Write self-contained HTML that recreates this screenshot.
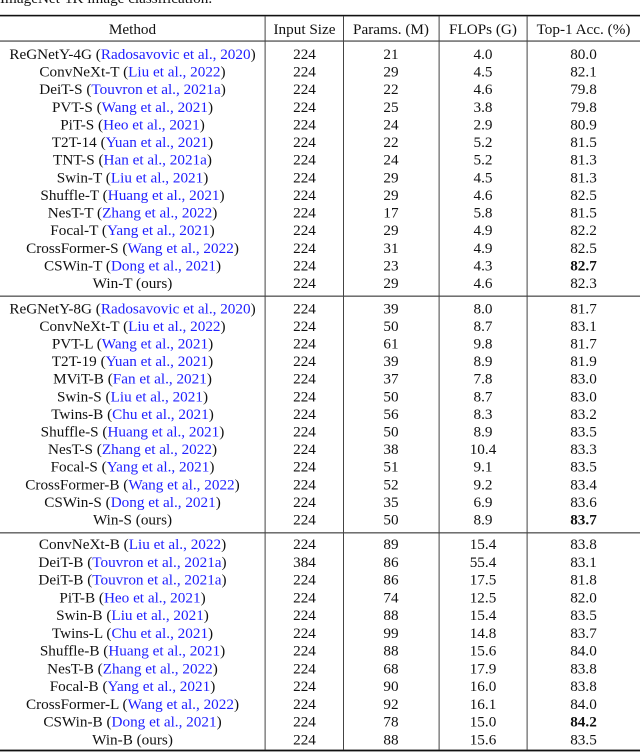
<!DOCTYPE html>
<html><head><meta charset="utf-8">
<style>
html,body{margin:0;padding:0;background:#fff;}
svg{display:block;}
text{font-family:"Liberation Serif",serif;font-size:15.2px;fill:#111;}
.b{fill:#2020ff;}
.bold{font-weight:bold;}
</style></head><body>
<svg width="640" height="752" viewBox="0 0 640 752" xmlns="http://www.w3.org/2000/svg">
<text x="0" y="3">ImageNet-1K image classification.</text>
<!-- rules -->
<rect x="0" y="14.8" width="640" height="1.6" fill="#111"/>
<rect x="0" y="40.5" width="640" height="1.1" fill="#333"/>
<rect x="0" y="295.6" width="640" height="1.1" fill="#333"/>
<rect x="0" y="532.3" width="640" height="1.1" fill="#333"/>
<rect x="0" y="749.6" width="640" height="1.8" fill="#111"/>
<!-- verticals -->
<g fill="#444">
<rect x="264.6" y="16" width="1" height="734"/>
<rect x="343" y="16" width="1" height="734"/>
<rect x="438.6" y="16" width="1" height="734"/>
<rect x="526.6" y="16" width="1" height="734"/>
</g>
<!-- header -->
<g text-anchor="middle">
<text x="132.5" y="34">Method</text>
<text x="304.5" y="34">Input Size</text>
<text x="391" y="34">Params. (M)</text>
<text x="483" y="34">FLOPs (G)</text>
<text x="583.5" y="34">Top-1 Acc. (%)</text>
</g>
<g text-anchor="middle">
<!-- Section 1 -->
<text x="132.5" y="59">ReGNetY-4G (<tspan class="b">Radosavovic et al., 2020</tspan>)</text><text x="304.5" y="59">224</text><text x="391" y="59">21</text><text x="483" y="59">4.0</text><text x="583.5" y="59">80.0</text>
<text x="132.5" y="76.6">ConvNeXt-T (<tspan class="b">Liu et al., 2022</tspan>)</text><text x="304.5" y="76.6">224</text><text x="391" y="76.6">29</text><text x="483" y="76.6">4.5</text><text x="583.5" y="76.6">82.1</text>
<text x="132.5" y="94.2">DeiT-S (<tspan class="b">Touvron et al., 2021a</tspan>)</text><text x="304.5" y="94.2">224</text><text x="391" y="94.2">22</text><text x="483" y="94.2">4.6</text><text x="583.5" y="94.2">79.8</text>
<text x="132.5" y="111.9">PVT-S (<tspan class="b">Wang et al., 2021</tspan>)</text><text x="304.5" y="111.9">224</text><text x="391" y="111.9">25</text><text x="483" y="111.9">3.8</text><text x="583.5" y="111.9">79.8</text>
<text x="132.5" y="129.5">PiT-S (<tspan class="b">Heo et al., 2021</tspan>)</text><text x="304.5" y="129.5">224</text><text x="391" y="129.5">24</text><text x="483" y="129.5">2.9</text><text x="583.5" y="129.5">80.9</text>
<text x="132.5" y="147.1">T2T-14 (<tspan class="b">Yuan et al., 2021</tspan>)</text><text x="304.5" y="147.1">224</text><text x="391" y="147.1">22</text><text x="483" y="147.1">5.2</text><text x="583.5" y="147.1">81.5</text>
<text x="132.5" y="164.7">TNT-S (<tspan class="b">Han et al., 2021a</tspan>)</text><text x="304.5" y="164.7">224</text><text x="391" y="164.7">24</text><text x="483" y="164.7">5.2</text><text x="583.5" y="164.7">81.3</text>
<text x="132.5" y="182.3">Swin-T (<tspan class="b">Liu et al., 2021</tspan>)</text><text x="304.5" y="182.3">224</text><text x="391" y="182.3">29</text><text x="483" y="182.3">4.5</text><text x="583.5" y="182.3">81.3</text>
<text x="132.5" y="200">Shuffle-T (<tspan class="b">Huang et al., 2021</tspan>)</text><text x="304.5" y="200">224</text><text x="391" y="200">29</text><text x="483" y="200">4.6</text><text x="583.5" y="200">82.5</text>
<text x="132.5" y="217.6">NesT-T (<tspan class="b">Zhang et al., 2022</tspan>)</text><text x="304.5" y="217.6">224</text><text x="391" y="217.6">17</text><text x="483" y="217.6">5.8</text><text x="583.5" y="217.6">81.5</text>
<text x="132.5" y="235.2">Focal-T (<tspan class="b">Yang et al., 2021</tspan>)</text><text x="304.5" y="235.2">224</text><text x="391" y="235.2">29</text><text x="483" y="235.2">4.9</text><text x="583.5" y="235.2">82.2</text>
<text x="132.5" y="252.8">CrossFormer-S (<tspan class="b">Wang et al., 2022</tspan>)</text><text x="304.5" y="252.8">224</text><text x="391" y="252.8">31</text><text x="483" y="252.8">4.9</text><text x="583.5" y="252.8">82.5</text>
<text x="132.5" y="270.4">CSWin-T (<tspan class="b">Dong et al., 2021</tspan>)</text><text x="304.5" y="270.4">224</text><text x="391" y="270.4">23</text><text x="483" y="270.4">4.3</text><text x="583.5" y="270.4" class="bold">82.7</text>
<text x="132.5" y="288">Win-T (ours)</text><text x="304.5" y="288">224</text><text x="391" y="288">29</text><text x="483" y="288">4.6</text><text x="583.5" y="288">82.3</text>
<!-- Section 2 -->
<text x="132.5" y="313.3">ReGNetY-8G (<tspan class="b">Radosavovic et al., 2020</tspan>)</text><text x="304.5" y="313.3">224</text><text x="391" y="313.3">39</text><text x="483" y="313.3">8.0</text><text x="583.5" y="313.3">81.7</text>
<text x="132.5" y="330.9">ConvNeXt-T (<tspan class="b">Liu et al., 2022</tspan>)</text><text x="304.5" y="330.9">224</text><text x="391" y="330.9">50</text><text x="483" y="330.9">8.7</text><text x="583.5" y="330.9">83.1</text>
<text x="132.5" y="348.5">PVT-L (<tspan class="b">Wang et al., 2021</tspan>)</text><text x="304.5" y="348.5">224</text><text x="391" y="348.5">61</text><text x="483" y="348.5">9.8</text><text x="583.5" y="348.5">81.7</text>
<text x="132.5" y="366.1">T2T-19 (<tspan class="b">Yuan et al., 2021</tspan>)</text><text x="304.5" y="366.1">224</text><text x="391" y="366.1">39</text><text x="483" y="366.1">8.9</text><text x="583.5" y="366.1">81.9</text>
<text x="132.5" y="383.7">MViT-B (<tspan class="b">Fan et al., 2021</tspan>)</text><text x="304.5" y="383.7">224</text><text x="391" y="383.7">37</text><text x="483" y="383.7">7.8</text><text x="583.5" y="383.7">83.0</text>
<text x="132.5" y="401.3">Swin-S (<tspan class="b">Liu et al., 2021</tspan>)</text><text x="304.5" y="401.3">224</text><text x="391" y="401.3">50</text><text x="483" y="401.3">8.7</text><text x="583.5" y="401.3">83.0</text>
<text x="132.5" y="418.9">Twins-B (<tspan class="b">Chu et al., 2021</tspan>)</text><text x="304.5" y="418.9">224</text><text x="391" y="418.9">56</text><text x="483" y="418.9">8.3</text><text x="583.5" y="418.9">83.2</text>
<text x="132.5" y="436.5">Shuffle-S (<tspan class="b">Huang et al., 2021</tspan>)</text><text x="304.5" y="436.5">224</text><text x="391" y="436.5">50</text><text x="483" y="436.5">8.9</text><text x="583.5" y="436.5">83.5</text>
<text x="132.5" y="454.1">NesT-S (<tspan class="b">Zhang et al., 2022</tspan>)</text><text x="304.5" y="454.1">224</text><text x="391" y="454.1">38</text><text x="483" y="454.1">10.4</text><text x="583.5" y="454.1">83.3</text>
<text x="132.5" y="471.7">Focal-S (<tspan class="b">Yang et al., 2021</tspan>)</text><text x="304.5" y="471.7">224</text><text x="391" y="471.7">51</text><text x="483" y="471.7">9.1</text><text x="583.5" y="471.7">83.5</text>
<text x="132.5" y="489.3">CrossFormer-B (<tspan class="b">Wang et al., 2022</tspan>)</text><text x="304.5" y="489.3">224</text><text x="391" y="489.3">52</text><text x="483" y="489.3">9.2</text><text x="583.5" y="489.3">83.4</text>
<text x="132.5" y="506.9">CSWin-S (<tspan class="b">Dong et al., 2021</tspan>)</text><text x="304.5" y="506.9">224</text><text x="391" y="506.9">35</text><text x="483" y="506.9">6.9</text><text x="583.5" y="506.9">83.6</text>
<text x="132.5" y="524.5">Win-S (ours)</text><text x="304.5" y="524.5">224</text><text x="391" y="524.5">50</text><text x="483" y="524.5">8.9</text><text x="583.5" y="524.5" class="bold">83.7</text>
<!-- Section 3 -->
<text x="132.5" y="549">ConvNeXt-B (<tspan class="b">Liu et al., 2022</tspan>)</text><text x="304.5" y="549">224</text><text x="391" y="549">89</text><text x="483" y="549">15.4</text><text x="583.5" y="549">83.8</text>
<text x="132.5" y="566.8">DeiT-B (<tspan class="b">Touvron et al., 2021a</tspan>)</text><text x="304.5" y="566.8">384</text><text x="391" y="566.8">86</text><text x="483" y="566.8">55.4</text><text x="583.5" y="566.8">83.1</text>
<text x="132.5" y="584.5">DeiT-B (<tspan class="b">Touvron et al., 2021a</tspan>)</text><text x="304.5" y="584.5">224</text><text x="391" y="584.5">86</text><text x="483" y="584.5">17.5</text><text x="583.5" y="584.5">81.8</text>
<text x="132.5" y="602.3">PiT-B (<tspan class="b">Heo et al., 2021</tspan>)</text><text x="304.5" y="602.3">224</text><text x="391" y="602.3">74</text><text x="483" y="602.3">12.5</text><text x="583.5" y="602.3">82.0</text>
<text x="132.5" y="620">Swin-B (<tspan class="b">Liu et al., 2021</tspan>)</text><text x="304.5" y="620">224</text><text x="391" y="620">88</text><text x="483" y="620">15.4</text><text x="583.5" y="620">83.5</text>
<text x="132.5" y="637.8">Twins-L (<tspan class="b">Chu et al., 2021</tspan>)</text><text x="304.5" y="637.8">224</text><text x="391" y="637.8">99</text><text x="483" y="637.8">14.8</text><text x="583.5" y="637.8">83.7</text>
<text x="132.5" y="655.5">Shuffle-B (<tspan class="b">Huang et al., 2021</tspan>)</text><text x="304.5" y="655.5">224</text><text x="391" y="655.5">88</text><text x="483" y="655.5">15.6</text><text x="583.5" y="655.5">84.0</text>
<text x="132.5" y="673.3">NesT-B (<tspan class="b">Zhang et al., 2022</tspan>)</text><text x="304.5" y="673.3">224</text><text x="391" y="673.3">68</text><text x="483" y="673.3">17.9</text><text x="583.5" y="673.3">83.8</text>
<text x="132.5" y="691">Focal-B (<tspan class="b">Yang et al., 2021</tspan>)</text><text x="304.5" y="691">224</text><text x="391" y="691">90</text><text x="483" y="691">16.0</text><text x="583.5" y="691">83.8</text>
<text x="132.5" y="708.8">CrossFormer-L (<tspan class="b">Wang et al., 2022</tspan>)</text><text x="304.5" y="708.8">224</text><text x="391" y="708.8">92</text><text x="483" y="708.8">16.1</text><text x="583.5" y="708.8">84.0</text>
<text x="132.5" y="726.5">CSWin-B (<tspan class="b">Dong et al., 2021</tspan>)</text><text x="304.5" y="726.5">224</text><text x="391" y="726.5">78</text><text x="483" y="726.5">15.0</text><text x="583.5" y="726.5" class="bold">84.2</text>
<text x="132.5" y="744.3">Win-B (ours)</text><text x="304.5" y="744.3">224</text><text x="391" y="744.3">88</text><text x="483" y="744.3">15.6</text><text x="583.5" y="744.3">83.5</text>
</g>
</svg>
</body></html>
